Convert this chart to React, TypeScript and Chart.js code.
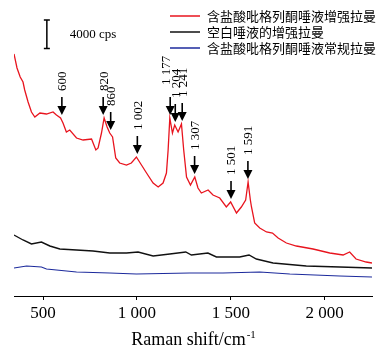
import React, { useEffect, useRef } from "react";
import { Chart, registerables } from "chart.js";

Chart.register(...registerables);

const seriesNames = [
  "含盐酸吡格列酮唾液增强拉曼",
  "空白唾液的增强拉曼",
  "含盐酸吡格列酮唾液常规拉曼",
];

const redX = [345, 361, 378, 393, 402, 420, 438, 456, 483, 518, 553, 571, 593, 606, 624, 642, 678, 713, 758, 781, 793, 811, 825, 841, 855, 870, 887, 908, 944, 970, 997, 1024, 1051, 1086, 1113, 1139, 1157, 1166, 1175, 1189, 1201, 1219, 1237, 1249, 1264, 1285, 1308, 1325, 1343, 1379, 1405, 1441, 1476, 1499, 1530, 1556, 1579, 1592, 1604, 1610, 1627, 1654, 1690, 1722, 1752, 1796, 1849, 1938, 2027, 2098, 2133, 2167, 2221, 2252];
const redY = [33880, 31920, 30660, 29960, 28840, 27160, 25760, 25060, 25620, 25480, 25760, 25340, 24920, 24220, 22960, 23240, 22120, 21840, 21980, 20440, 20720, 22820, 24920, 23660, 22820, 22260, 19320, 18620, 18340, 18620, 19460, 18340, 17220, 15820, 15260, 15820, 17220, 20440, 24920, 22820, 23940, 22960, 24080, 20440, 16660, 15540, 16660, 15120, 14420, 14840, 14140, 13720, 12460, 13160, 11620, 12460, 13440, 15960, 13440, 12460, 10220, 9520, 8960, 8820, 8120, 7420, 7000, 6580, 6020, 5740, 6160, 5180, 4760, 4620];

const blackX = [345, 393, 438, 491, 536, 589, 678, 766, 855, 944, 1006, 1086, 1175, 1260, 1290, 1378, 1423, 1547, 1597, 1636, 1725, 1902, 2080, 2252];
const blackY = [8540, 7840, 7280, 7560, 7000, 6580, 6440, 6300, 6020, 6020, 6160, 5600, 5880, 6160, 5740, 6020, 5460, 5460, 5740, 5180, 4620, 4200, 4060, 3920];

const blueX = [345, 412, 491, 518, 678, 855, 997, 1281, 1458, 1654, 1814, 2080, 2252];
const blueY = [3920, 4200, 4060, 3780, 3360, 3220, 3080, 3220, 3220, 3360, 3080, 2800, 2660];

const xTicks = [500, 1000, 1500, 2000];
const xTickLabels = ["500", "1 000", "1 500", "2 000"];

const peaks = [600, 820, 860, 1002, 1177, 1204, 1241, 1307, 1501, 1591];
const peakLabels = ["600", "820", "860", "1 002", "1 177", "1 204", "1 241", "1 307", "1 501", "1 591"];

const scaleBarValue = 4000;
const scaleBarLabel = "4000 cps";
const xTitle = "Raman shift/cm";
const xTitleSup = "-1";

const colors = ["#e8141e", "#111111", "#1c2a9c"];

const toXY = (xs: number[], ys: number[]) => xs.map((x, i) => ({ x, y: ys[i] }));

const SERIF = "'Liberation Serif', 'Times New Roman', serif";
const CJK = "'Noto Sans CJK SC', sans-serif";

const overlayPlugin = {
  id: "overlay",
  afterDatasetsDraw(chart: any) {
    const ctx = chart.ctx as CanvasRenderingContext2D;
    const xs = chart.scales.x;
    const ys = chart.scales.y;
    const area = chart.chartArea;
    ctx.save();

    // Peak arrows and labels
    peaks.forEach((p, i) => {
      let best = -Infinity;
      redX.forEach((x, j) => {
        if (Math.abs(x - p) <= 10 && redY[j] > best) best = redY[j];
      });
      const px = xs.getPixelForValue(p);
      const cy = ys.getPixelForValue(best);
      const tip = cy - 3;
      const top = tip - 18;
      ctx.strokeStyle = "#000";
      ctx.fillStyle = "#000";
      ctx.lineWidth = 1.6;
      ctx.beginPath();
      ctx.moveTo(px, top);
      ctx.lineTo(px, tip - 6);
      ctx.stroke();
      ctx.beginPath();
      ctx.moveTo(px - 4.5, tip - 9);
      ctx.lineTo(px + 4.5, tip - 9);
      ctx.lineTo(px, tip);
      ctx.closePath();
      ctx.fill();
      let dx = 1;
      let dy = 0;
      if (p === 1177) { dx = -4; dy = -6; }
      ctx.save();
      ctx.translate(px + dx, top - 6 + dy);
      ctx.rotate(-Math.PI / 2);
      ctx.font = `13px ${SERIF}`;
      ctx.textAlign = "left";
      ctx.textBaseline = "middle";
      ctx.fillText(peakLabels[i], 0, 0);
      ctx.restore();
    });

    // Scale bar
    const barX = xs.getPixelForValue(520);
    const barTop = area.top + 20;
    const barLen = ys.getPixelForValue(0) - ys.getPixelForValue(scaleBarValue);
    ctx.strokeStyle = "#000";
    ctx.lineWidth = 1.5;
    ctx.beginPath();
    ctx.moveTo(barX, barTop);
    ctx.lineTo(barX, barTop + barLen);
    ctx.moveTo(barX - 3, barTop);
    ctx.lineTo(barX + 3, barTop);
    ctx.moveTo(barX - 3, barTop + barLen);
    ctx.lineTo(barX + 3, barTop + barLen);
    ctx.stroke();
    ctx.fillStyle = "#000";
    ctx.font = `13px ${SERIF}`;
    ctx.textAlign = "left";
    ctx.textBaseline = "middle";
    ctx.fillText(scaleBarLabel, barX + 23, barTop + barLen / 2);

    // Legend
    chart.data.datasets.forEach((ds: any, i: number) => {
      const y = area.top + 16 + i * 16;
      ctx.strokeStyle = ds.borderColor;
      ctx.lineWidth = 1.5;
      ctx.beginPath();
      ctx.moveTo(170, y);
      ctx.lineTo(200, y);
      ctx.stroke();
      ctx.fillStyle = "#000";
      ctx.font = `13px ${CJK}`;
      ctx.textAlign = "left";
      ctx.textBaseline = "middle";
      ctx.fillText(ds.label, 207, y);
    });

    // X title with superscript
    ctx.font = `18px ${SERIF}`;
    const mainW = ctx.measureText(xTitle).width;
    ctx.font = `11px ${SERIF}`;
    const supW = ctx.measureText(xTitleSup).width;
    const cx = (area.left + area.right) / 2;
    const startX = cx - (mainW + supW) / 2;
    const baseY = chart.height - 4;
    ctx.textAlign = "left";
    ctx.textBaseline = "alphabetic";
    ctx.fillStyle = "#000";
    ctx.font = `18px ${SERIF}`;
    ctx.fillText(xTitle, startX, baseY);
    ctx.font = `11px ${SERIF}`;
    ctx.fillText(xTitleSup, startX + mainW + 1, baseY - 7);

    ctx.restore();
  },
};

export default function App() {
  const ref = useRef<HTMLCanvasElement | null>(null);
  useEffect(() => {
    document.body.style.margin = "0";
    const canvas = ref.current;
    if (!canvas) return;
    const chart = new Chart(canvas, {
      type: "line",
      data: {
        datasets: [
          { label: seriesNames[0], data: toXY(redX, redY), borderColor: colors[0], borderWidth: 1.3, pointRadius: 0, tension: 0, fill: false },
          { label: seriesNames[1], data: toXY(blackX, blackY), borderColor: colors[1], borderWidth: 1.4, pointRadius: 0, tension: 0, fill: false },
          { label: seriesNames[2], data: toXY(blueX, blueY), borderColor: colors[2], borderWidth: 1.1, pointRadius: 0, tension: 0, fill: false },
        ],
      },
      options: {
        animation: false,
        responsive: false,
        maintainAspectRatio: false,
        layout: { padding: { left: 14, right: 8, top: 0, bottom: 0 } },
        plugins: { legend: { display: false }, tooltip: { enabled: false } },
        scales: {
          x: {
            type: "linear",
            min: 345,
            max: 2252,
            afterBuildTicks: (s: any) => {
              s.ticks = xTicks.map((v) => ({ value: v }));
            },
            afterFit: (s: any) => {
              s.height = 53;
            },
            ticks: {
              callback: (v: any) => {
                const idx = xTicks.indexOf(Number(v));
                return idx >= 0 ? xTickLabels[idx] : "";
              },
              font: { family: SERIF, size: 17 },
              color: "#000",
              padding: 3,
              maxRotation: 0,
              autoSkip: false,
            },
            grid: { drawOnChartArea: false, drawTicks: true, tickLength: 4, color: "#000" },
            border: { color: "#000", width: 1 },
          },
          y: { display: false, min: 0, max: 41440 },
        },
      },
      plugins: [overlayPlugin],
    } as any);
    return () => chart.destroy();
  }, []);
  return (
    <div style={{ position: "absolute", left: 0, top: 0, width: 380, height: 349, background: "#fff" }}>
      <canvas ref={ref} width={380} height={349} />
    </div>
  );
}
